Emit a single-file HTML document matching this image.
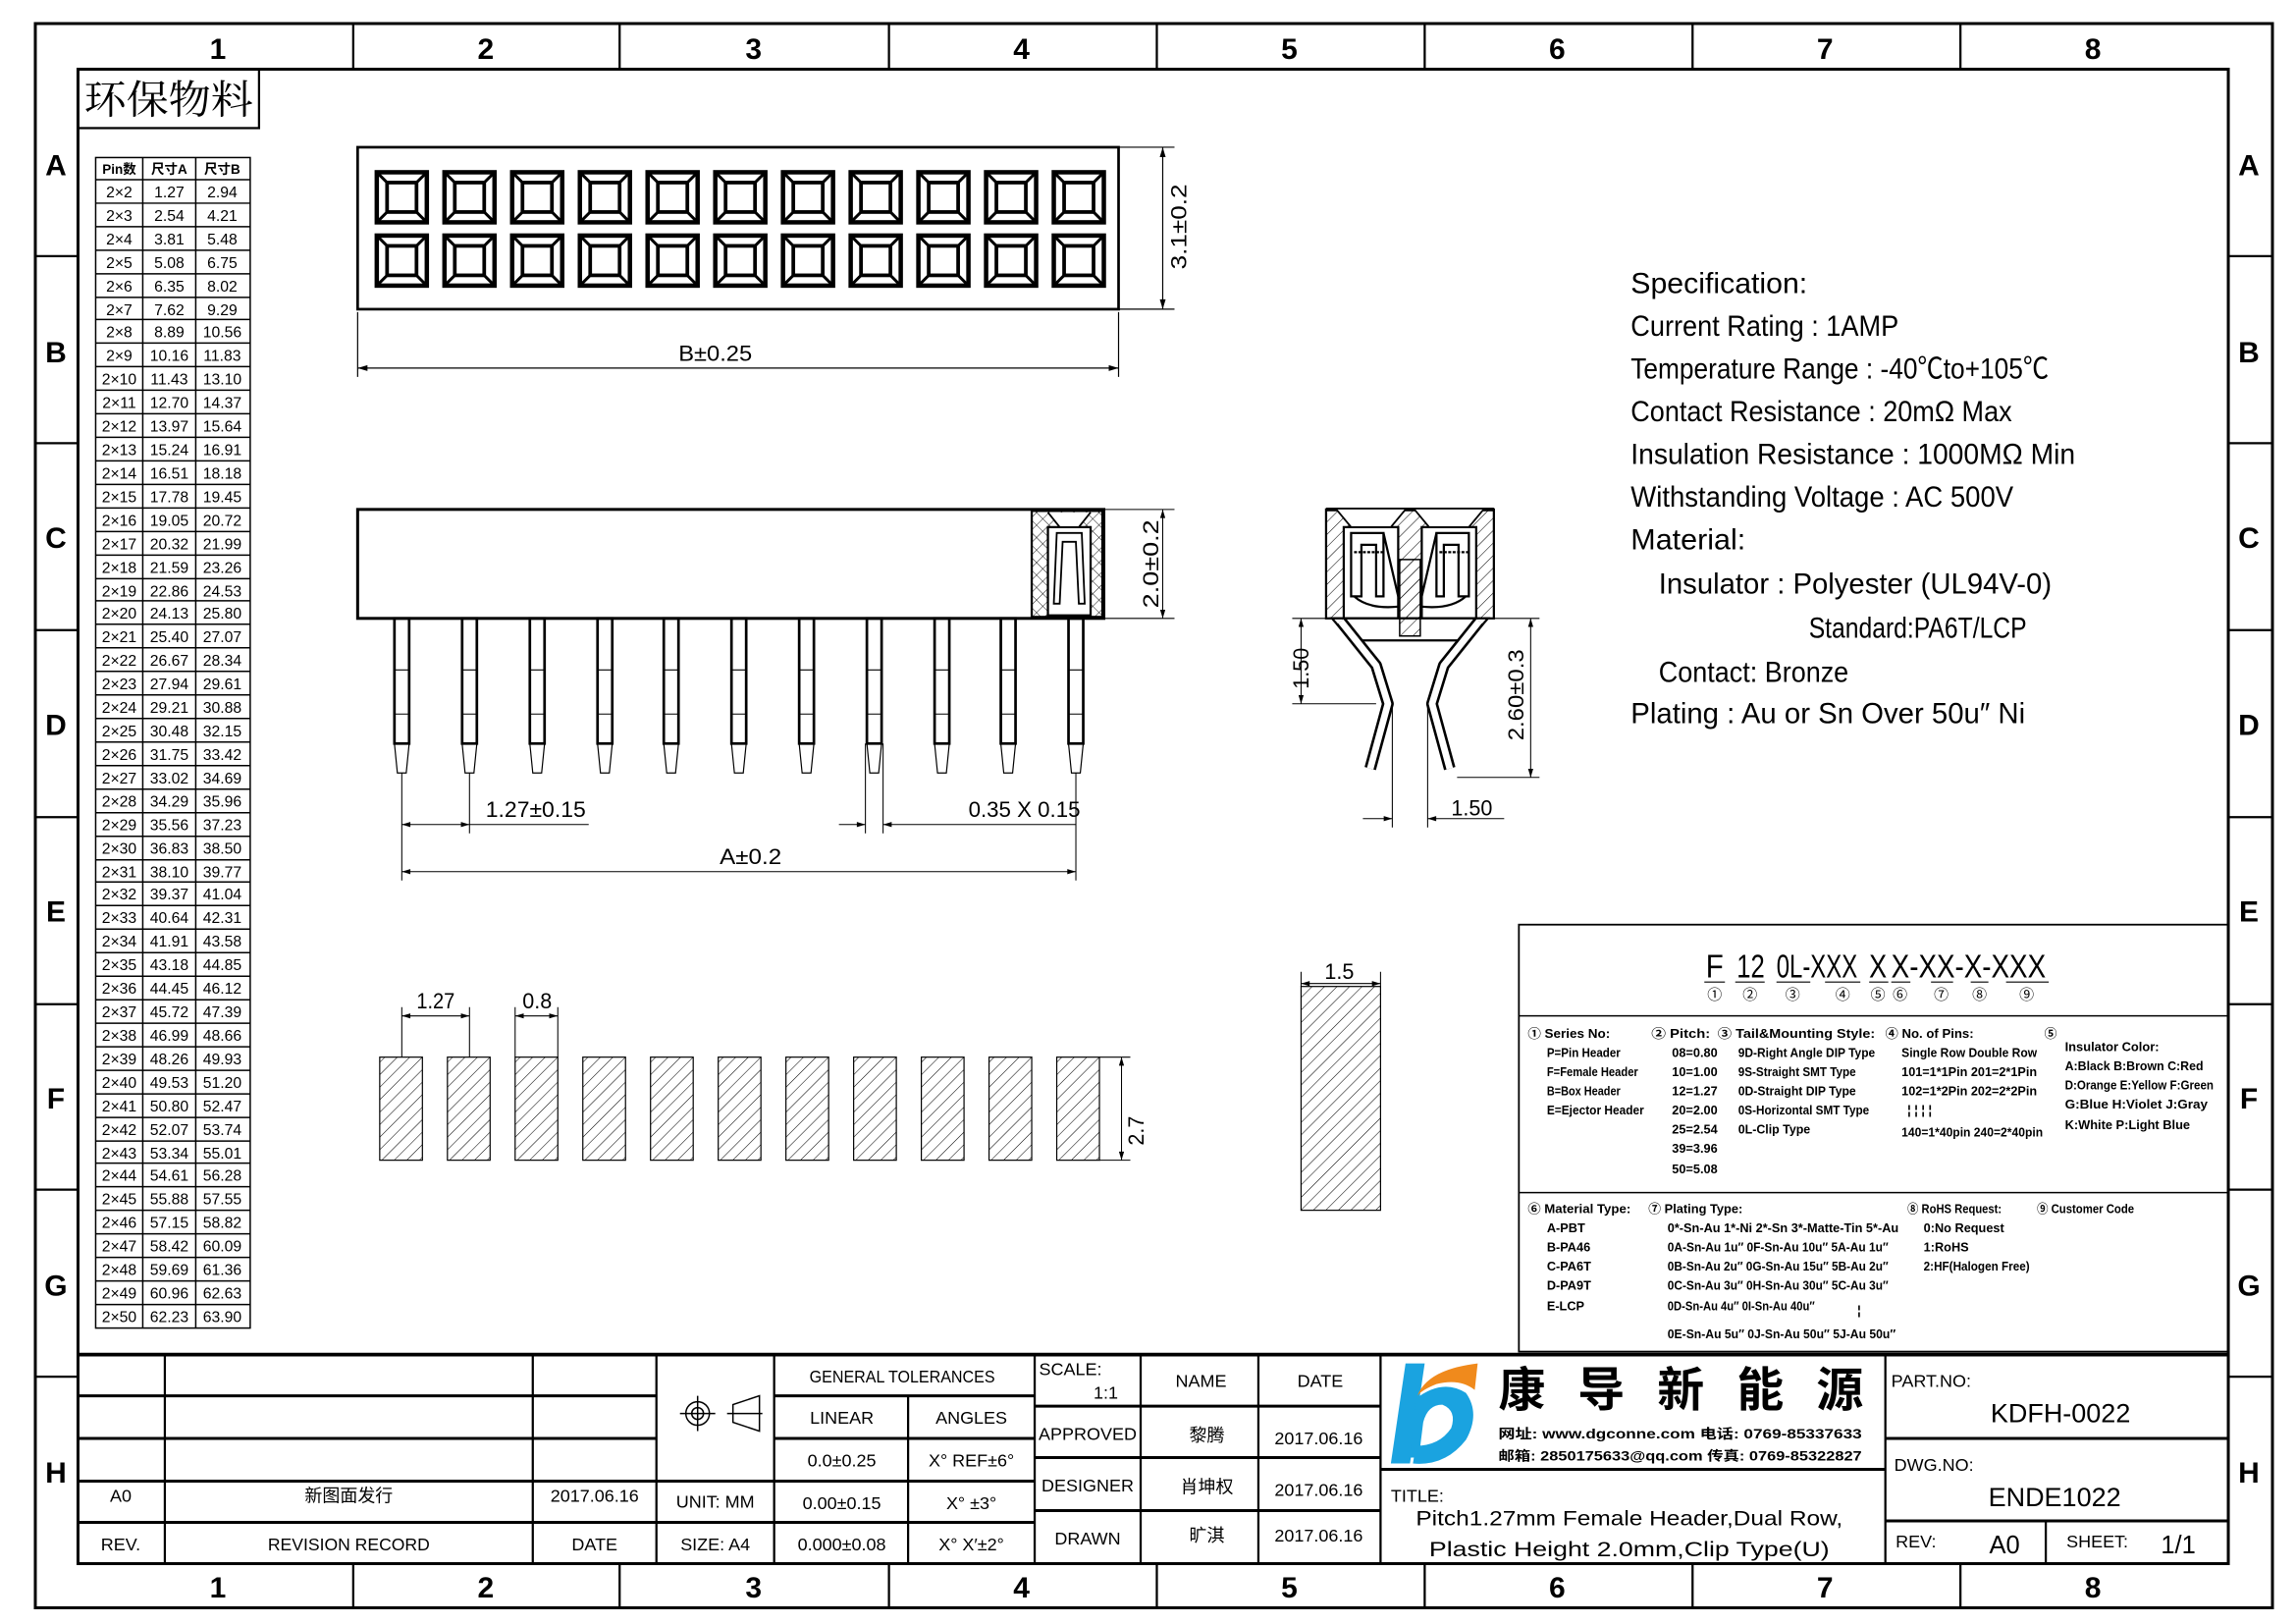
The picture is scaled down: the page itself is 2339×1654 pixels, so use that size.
<!DOCTYPE html>
<html><head><meta charset="utf-8"><style>
html,body{margin:0;padding:0;background:#fff;}
svg{display:block;}
text{font-family:"Liberation Sans","Noto Sans CJK SC",sans-serif;fill:#000;}
.sm{font-size:8.5px;font-weight:bold;}
.tb{font-size:12px;}
</style></head><body>
<svg width="2339" height="1654" viewBox="0 0 1560 1103" preserveAspectRatio="none" xmlns="http://www.w3.org/2000/svg">
<defs>
<pattern id="h" width="6" height="6" patternUnits="userSpaceOnUse" patternTransform="rotate(45)"><line x1="0" y1="0" x2="0" y2="6" stroke="#000" stroke-width="0.7"/></pattern>
<pattern id="x" width="6" height="6" patternUnits="userSpaceOnUse" patternTransform="rotate(45)"><line x1="0" y1="0" x2="0" y2="6" stroke="#000" stroke-width="0.6"/><line x1="0" y1="0" x2="6" y2="0" stroke="#000" stroke-width="0.6"/></pattern>
<g id="sq" fill="none" stroke="#000"><rect x="0" y="0" width="34" height="34" stroke-width="3"/><rect x="7" y="7" width="20" height="20" stroke-width="2.5"/><path d="M0 0L7 7M34 0L27 7M0 34L7 27M34 34L27 27" stroke-width="2"/></g>
<g id="pin" fill="none" stroke="#000"><rect x="-5" y="420" width="10" height="85" stroke-width="1.8"/><path d="M-5 455H5M-5 485H5" stroke-width="0.7"/><path d="M-5 505L-3 525H3L5 505" stroke-width="0.8"/></g>
<g id="fp"><rect x="0" y="718" width="29" height="70" fill="url(#h)" stroke="#000" stroke-width="0.8"/></g>
<marker id="a" viewBox="0 0 10 6" refX="10" refY="3" markerWidth="10" markerHeight="5" orient="auto-start-reverse"><path d="M0 0L10 3L0 6z" fill="#000"/></marker>
</defs>
<rect width="1560" height="1103" fill="#fff"/>
<!-- frames -->
<rect x="24" y="16" width="1520" height="1076" fill="none" stroke="#000" stroke-width="2"/>
<rect x="53" y="47" width="1461" height="1015" fill="none" stroke="#000" stroke-width="2"/>
<g stroke="#000" stroke-width="1.5">
<path d="M240 16V47M421 16V47M604 16V47M786 16V47M968 16V47M1150 16V47M1332 16V47"/>
<path d="M240 1062V1092M421 1062V1092M604 1062V1092M786 1062V1092M968 1062V1092M1150 1062V1092M1332 1062V1092"/>
<path d="M24 174H53M24 301H53M24 428H53M24 555H53M24 682H53M24 808H53M24 935H53"/>
<path d="M1514 174H1544M1514 301H1544M1514 428H1544M1514 555H1544M1514 682H1544M1514 808H1544M1514 935H1544"/>
</g>
<g font-size="20" font-weight="bold" text-anchor="middle">
<text x="148" y="40">1</text><text x="330" y="40">2</text><text x="512" y="40">3</text><text x="694" y="40">4</text><text x="876" y="40">5</text><text x="1058" y="40">6</text><text x="1240" y="40">7</text><text x="1422" y="40">8</text>
<text x="148" y="1085">1</text><text x="330" y="1085">2</text><text x="512" y="1085">3</text><text x="694" y="1085">4</text><text x="876" y="1085">5</text><text x="1058" y="1085">6</text><text x="1240" y="1085">7</text><text x="1422" y="1085">8</text>
<text x="38" y="119">A</text><text x="38" y="246">B</text><text x="38" y="372">C</text><text x="38" y="499">D</text><text x="38" y="626">E</text><text x="38" y="753">F</text><text x="38" y="880">G</text><text x="38" y="1007">H</text>
<text x="1528" y="119">A</text><text x="1528" y="246">B</text><text x="1528" y="372">C</text><text x="1528" y="499">D</text><text x="1528" y="626">E</text><text x="1528" y="753">F</text><text x="1528" y="880">G</text><text x="1528" y="1007">H</text>
</g>
<rect x="53" y="47" width="123" height="40" fill="none" stroke="#000" stroke-width="1.5"/>
<text x="57" y="77" font-size="27" textLength="115" lengthAdjust="spacingAndGlyphs" style="font-family:'Noto Serif CJK SC','Noto Sans CJK SC',serif">环保物料</text>

<!-- table -->
<g stroke="#000" stroke-width="1" fill="none">
<rect x="65" y="107" width="105" height="795"/>
<path d="M97 107V902M133 107V902M65 122H170"/>
<path d="M65 138H170M65 154H170M65 170H170M65 186H170M65 202H170M65 217H170M65 233H170M65 249H170M65 265H170M65 281H170M65 297H170M65 313H170M65 329H170M65 345H170M65 361H170M65 377H170M65 393H170M65 408H170M65 424H170M65 440H170M65 456H170M65 472H170M65 488H170M65 504H170M65 520H170M65 536H170M65 552H170M65 568H170M65 584H170M65 599H170M65 615H170M65 631H170M65 647H170M65 663H170M65 679H170M65 695H170M65 711H170M65 727H170M65 743H170M65 759H170M65 775H170M65 790H170M65 806H170M65 822H170M65 838H170M65 854H170M65 870H170M65 886H170"/>
</g>
<g font-size="10" font-weight="bold" text-anchor="middle">
<text x="81" y="118" font-size="9">Pin数</text><text x="115" y="118" font-size="9">尺寸A</text><text x="151" y="118" font-size="9">尺寸B</text>
</g>
<g font-size="10.5" text-anchor="middle" id="tbl">
<text y="134"><tspan x="81">2×2</tspan><tspan x="115">1.27</tspan><tspan x="151">2.94</tspan></text>
<text y="150"><tspan x="81">2×3</tspan><tspan x="115">2.54</tspan><tspan x="151">4.21</tspan></text>
<text y="166"><tspan x="81">2×4</tspan><tspan x="115">3.81</tspan><tspan x="151">5.48</tspan></text>
<text y="182"><tspan x="81">2×5</tspan><tspan x="115">5.08</tspan><tspan x="151">6.75</tspan></text>
<text y="198"><tspan x="81">2×6</tspan><tspan x="115">6.35</tspan><tspan x="151">8.02</tspan></text>
<text y="214"><tspan x="81">2×7</tspan><tspan x="115">7.62</tspan><tspan x="151">9.29</tspan></text>
<text y="229"><tspan x="81">2×8</tspan><tspan x="115">8.89</tspan><tspan x="151">10.56</tspan></text>
<text y="245"><tspan x="81">2×9</tspan><tspan x="115">10.16</tspan><tspan x="151">11.83</tspan></text>
<text y="261"><tspan x="81">2×10</tspan><tspan x="115">11.43</tspan><tspan x="151">13.10</tspan></text>
<text y="277"><tspan x="81">2×11</tspan><tspan x="115">12.70</tspan><tspan x="151">14.37</tspan></text>
<text y="293"><tspan x="81">2×12</tspan><tspan x="115">13.97</tspan><tspan x="151">15.64</tspan></text>
<text y="309"><tspan x="81">2×13</tspan><tspan x="115">15.24</tspan><tspan x="151">16.91</tspan></text>
<text y="325"><tspan x="81">2×14</tspan><tspan x="115">16.51</tspan><tspan x="151">18.18</tspan></text>
<text y="341"><tspan x="81">2×15</tspan><tspan x="115">17.78</tspan><tspan x="151">19.45</tspan></text>
<text y="357"><tspan x="81">2×16</tspan><tspan x="115">19.05</tspan><tspan x="151">20.72</tspan></text>
<text y="373"><tspan x="81">2×17</tspan><tspan x="115">20.32</tspan><tspan x="151">21.99</tspan></text>
<text y="389"><tspan x="81">2×18</tspan><tspan x="115">21.59</tspan><tspan x="151">23.26</tspan></text>
<text y="405"><tspan x="81">2×19</tspan><tspan x="115">22.86</tspan><tspan x="151">24.53</tspan></text>
<text y="420"><tspan x="81">2×20</tspan><tspan x="115">24.13</tspan><tspan x="151">25.80</tspan></text>
<text y="436"><tspan x="81">2×21</tspan><tspan x="115">25.40</tspan><tspan x="151">27.07</tspan></text>
<text y="452"><tspan x="81">2×22</tspan><tspan x="115">26.67</tspan><tspan x="151">28.34</tspan></text>
<text y="468"><tspan x="81">2×23</tspan><tspan x="115">27.94</tspan><tspan x="151">29.61</tspan></text>
<text y="484"><tspan x="81">2×24</tspan><tspan x="115">29.21</tspan><tspan x="151">30.88</tspan></text>
<text y="500"><tspan x="81">2×25</tspan><tspan x="115">30.48</tspan><tspan x="151">32.15</tspan></text>
<text y="516"><tspan x="81">2×26</tspan><tspan x="115">31.75</tspan><tspan x="151">33.42</tspan></text>
<text y="532"><tspan x="81">2×27</tspan><tspan x="115">33.02</tspan><tspan x="151">34.69</tspan></text>
<text y="548"><tspan x="81">2×28</tspan><tspan x="115">34.29</tspan><tspan x="151">35.96</tspan></text>
<text y="564"><tspan x="81">2×29</tspan><tspan x="115">35.56</tspan><tspan x="151">37.23</tspan></text>
<text y="580"><tspan x="81">2×30</tspan><tspan x="115">36.83</tspan><tspan x="151">38.50</tspan></text>
<text y="596"><tspan x="81">2×31</tspan><tspan x="115">38.10</tspan><tspan x="151">39.77</tspan></text>
<text y="611"><tspan x="81">2×32</tspan><tspan x="115">39.37</tspan><tspan x="151">41.04</tspan></text>
<text y="627"><tspan x="81">2×33</tspan><tspan x="115">40.64</tspan><tspan x="151">42.31</tspan></text>
<text y="643"><tspan x="81">2×34</tspan><tspan x="115">41.91</tspan><tspan x="151">43.58</tspan></text>
<text y="659"><tspan x="81">2×35</tspan><tspan x="115">43.18</tspan><tspan x="151">44.85</tspan></text>
<text y="675"><tspan x="81">2×36</tspan><tspan x="115">44.45</tspan><tspan x="151">46.12</tspan></text>
<text y="691"><tspan x="81">2×37</tspan><tspan x="115">45.72</tspan><tspan x="151">47.39</tspan></text>
<text y="707"><tspan x="81">2×38</tspan><tspan x="115">46.99</tspan><tspan x="151">48.66</tspan></text>
<text y="723"><tspan x="81">2×39</tspan><tspan x="115">48.26</tspan><tspan x="151">49.93</tspan></text>
<text y="739"><tspan x="81">2×40</tspan><tspan x="115">49.53</tspan><tspan x="151">51.20</tspan></text>
<text y="755"><tspan x="81">2×41</tspan><tspan x="115">50.80</tspan><tspan x="151">52.47</tspan></text>
<text y="771"><tspan x="81">2×42</tspan><tspan x="115">52.07</tspan><tspan x="151">53.74</tspan></text>
<text y="787"><tspan x="81">2×43</tspan><tspan x="115">53.34</tspan><tspan x="151">55.01</tspan></text>
<text y="802"><tspan x="81">2×44</tspan><tspan x="115">54.61</tspan><tspan x="151">56.28</tspan></text>
<text y="818"><tspan x="81">2×45</tspan><tspan x="115">55.88</tspan><tspan x="151">57.55</tspan></text>
<text y="834"><tspan x="81">2×46</tspan><tspan x="115">57.15</tspan><tspan x="151">58.82</tspan></text>
<text y="850"><tspan x="81">2×47</tspan><tspan x="115">58.42</tspan><tspan x="151">60.09</tspan></text>
<text y="866"><tspan x="81">2×48</tspan><tspan x="115">59.69</tspan><tspan x="151">61.36</tspan></text>
<text y="882"><tspan x="81">2×49</tspan><tspan x="115">60.96</tspan><tspan x="151">62.63</tspan></text>
<text y="898"><tspan x="81">2×50</tspan><tspan x="115">62.23</tspan><tspan x="151">63.90</tspan></text>
</g>

<!-- top view -->
<rect x="243" y="100" width="517" height="110" fill="none" stroke="#000" stroke-width="1.8"/>
<g>
<use href="#sq" x="256" y="117"/><use href="#sq" x="302" y="117"/><use href="#sq" x="348" y="117"/><use href="#sq" x="394" y="117"/><use href="#sq" x="440" y="117"/><use href="#sq" x="486" y="117"/><use href="#sq" x="532" y="117"/><use href="#sq" x="578" y="117"/><use href="#sq" x="624" y="117"/><use href="#sq" x="670" y="117"/><use href="#sq" x="716" y="117"/>
<use href="#sq" x="256" y="160"/><use href="#sq" x="302" y="160"/><use href="#sq" x="348" y="160"/><use href="#sq" x="394" y="160"/><use href="#sq" x="440" y="160"/><use href="#sq" x="486" y="160"/><use href="#sq" x="532" y="160"/><use href="#sq" x="578" y="160"/><use href="#sq" x="624" y="160"/><use href="#sq" x="670" y="160"/><use href="#sq" x="716" y="160"/>
</g>
<g stroke="#000" stroke-width="0.8" fill="none">
<path d="M760 100H798M760 210H798M243 212V256M760 212V256"/>
<line x1="790" y1="100" x2="790" y2="210" marker-start="url(#a)" marker-end="url(#a)"/>
<line x1="243" y1="250" x2="760" y2="250" marker-start="url(#a)" marker-end="url(#a)"/>
</g>
<text x="0" y="0" font-size="15" transform="translate(806,183) rotate(-90)" textLength="58" lengthAdjust="spacingAndGlyphs">3.1±0.2</text>
<text x="461" y="245" font-size="15" textLength="50" lengthAdjust="spacingAndGlyphs">B±0.25</text>

<!-- side view -->
<rect x="243" y="346" width="507" height="74" fill="none" stroke="#000" stroke-width="2"/>
<rect x="701" y="347" width="48" height="72" fill="url(#x)" stroke="#000" stroke-width="1.5"/>
<path d="M712 358H741V418H712Z" fill="#fff" stroke="#000" stroke-width="1.5"/>
<path d="M712 348L720 358H733L741 348" fill="#fff" stroke="#000" stroke-width="1.2"/>
<path d="M718 362H735L737 410H733L731 368H722L720 410H716Z" fill="none" stroke="#000" stroke-width="1.2"/>
<g>
<use href="#pin" x="273"/><use href="#pin" x="319"/><use href="#pin" x="365"/><use href="#pin" x="411"/><use href="#pin" x="456"/><use href="#pin" x="502"/><use href="#pin" x="548"/><use href="#pin" x="594"/><use href="#pin" x="640"/><use href="#pin" x="685"/><use href="#pin" x="731"/>
</g>
<g stroke="#000" stroke-width="0.7" fill="none">
<path d="M273 525V598M319 525V566M588 505V566M600 505V566M731 525V598"/>
<line x1="273" y1="560" x2="319" y2="560" marker-start="url(#a)" marker-end="url(#a)"/>
<path d="M319 560H400"/>
<line x1="570" y1="560" x2="588" y2="560" marker-end="url(#a)"/>
<line x1="731" y1="560" x2="600" y2="560" marker-end="url(#a)"/>
<line x1="273" y1="592" x2="731" y2="592" marker-start="url(#a)" marker-end="url(#a)"/>
<path d="M750 346H798M750 420H798"/>
<line x1="790" y1="346" x2="790" y2="420" marker-start="url(#a)" marker-end="url(#a)"/>
</g>
<text x="330" y="555" font-size="15" textLength="68" lengthAdjust="spacingAndGlyphs">1.27±0.15</text>
<text x="658" y="555" font-size="15" textLength="76" lengthAdjust="spacingAndGlyphs">0.35 X 0.15</text>
<text x="489" y="587" font-size="15" textLength="42" lengthAdjust="spacingAndGlyphs">A±0.2</text>
<text font-size="15" transform="translate(787,413) rotate(-90)" textLength="60" lengthAdjust="spacingAndGlyphs">2.0±0.2</text>

<!-- cross-section -->
<rect x="901" y="346" width="114" height="74" fill="url(#h)" stroke="#000" stroke-width="1.5"/>
<path d="M901 346H1015" stroke="#000" stroke-width="2.5"/>
<path d="M913 358H950V420H913Z M966 358H1003V420H966Z" fill="#fff" stroke="#000" stroke-width="1.5"/>
<path d="M908 346L918 358H945L955 346M961 346L971 358H998L1008 346" fill="#fff" stroke="#000" stroke-width="1.2"/>
<g fill="none" stroke="#000" stroke-width="1.5">
<path d="M918 362H940V405H935V370H925V405H918Z"/>
<path d="M976 362H998V405H991V370H981V405H976Z"/>
<path d="M920 375H940M978 375H998" stroke-dasharray="2 1"/>
<path d="M940 362L950 405M976 362L966 405"/>
</g>
<path d="M905 420L918 435H998L1011 420Z" fill="#fff" stroke="#000" stroke-width="1.5"/>
<path d="M951 380H965V432H951Z" fill="url(#h)" stroke="#000" stroke-width="1"/>
<g fill="none" stroke-linejoin="round">
<polyline points="911,422 935,452 943,478 931,522" stroke="#000" stroke-width="8"/>
<polyline points="911,422 935,452 943,478 931,522" stroke="#fff" stroke-width="4.5"/>
<polyline points="1005,422 981,452 973,478 985,522" stroke="#000" stroke-width="8"/>
<polyline points="1005,422 981,452 973,478 985,522" stroke="#fff" stroke-width="4.5"/>
<path d="M920 405Q930 414 950 412M996 405Q986 414 966 412" stroke="#000" stroke-width="1.5"/>
</g>
<g stroke="#000" stroke-width="0.7" fill="none">
<path d="M878 420H905M878 478H935M1015 420H1046M990 528H1046M946 478V562M970 478V562"/>
<line x1="884" y1="420" x2="884" y2="478" marker-start="url(#a)" marker-end="url(#a)"/>
<line x1="1040" y1="420" x2="1040" y2="528" marker-start="url(#a)" marker-end="url(#a)"/>
<line x1="926" y1="556" x2="946" y2="556" marker-end="url(#a)"/>
<line x1="1022" y1="556" x2="970" y2="556" marker-end="url(#a)"/>
</g>
<text font-size="15" transform="translate(889,468) rotate(-90)" textLength="28" lengthAdjust="spacingAndGlyphs">1.50</text>
<text font-size="15" transform="translate(1035,503) rotate(-90)" textLength="62" lengthAdjust="spacingAndGlyphs">2.60±0.3</text>
<text x="986" y="554" font-size="15" textLength="28" lengthAdjust="spacingAndGlyphs">1.50</text>

<!-- spec -->
<g font-size="20" lengthAdjust="spacingAndGlyphs">
<text x="1108" y="199" textLength="120" lengthAdjust="spacingAndGlyphs">Specification:</text>
<text x="1108" y="228" textLength="182" lengthAdjust="spacingAndGlyphs">Current Rating : 1AMP</text>
<text x="1108" y="257" textLength="284" lengthAdjust="spacingAndGlyphs">Temperature Range : -40℃to+105℃</text>
<text x="1108" y="286" textLength="259" lengthAdjust="spacingAndGlyphs">Contact Resistance : 20mΩ Max</text>
<text x="1108" y="315" textLength="302" lengthAdjust="spacingAndGlyphs">Insulation Resistance : 1000MΩ Min</text>
<text x="1108" y="344" textLength="260" lengthAdjust="spacingAndGlyphs">Withstanding Voltage : AC 500V</text>
<text x="1108" y="373" textLength="78" lengthAdjust="spacingAndGlyphs">Material:</text>
<text x="1127" y="403" textLength="267" lengthAdjust="spacingAndGlyphs">Insulator : Polyester (UL94V-0)</text>
<text x="1229" y="433" textLength="148" lengthAdjust="spacingAndGlyphs">Standard:PA6T/LCP</text>
<text x="1127" y="463" textLength="129" lengthAdjust="spacingAndGlyphs">Contact: Bronze</text>
<text x="1108" y="491" textLength="268" lengthAdjust="spacingAndGlyphs">Plating : Au or Sn Over 50u″ Ni</text>
</g>

<!-- part number box -->
<rect x="1032" y="628" width="482" height="290" fill="none" stroke="#000" stroke-width="1.2"/>
<path d="M1032 690H1514M1032 810H1514" stroke="#000" stroke-width="1"/>
<g font-size="22">
<text x="1159" y="664" textLength="12" lengthAdjust="spacingAndGlyphs">F</text>
<text x="1180" y="664" textLength="19" lengthAdjust="spacingAndGlyphs">12</text>
<text x="1207" y="664" textLength="55" lengthAdjust="spacingAndGlyphs">0L-XXX</text>
<text x="1270" y="664" textLength="12" lengthAdjust="spacingAndGlyphs">X</text>
<text x="1285" y="664" textLength="105" lengthAdjust="spacingAndGlyphs">X-XX-X-XXX</text>
</g>
<path d="M1158 667H1172M1179 667H1199M1207 667H1230M1240 667H1264M1270 667H1283M1285 667H1298M1312 667H1327M1339 667H1351M1363 667H1392" stroke="#000" stroke-width="0.7"/>
<g font-size="10" text-anchor="middle">
<text x="1165" y="679">①</text><text x="1189" y="679">②</text><text x="1218" y="679">③</text><text x="1252" y="679">④</text><text x="1276" y="679">⑤</text><text x="1291" y="679">⑥</text><text x="1319" y="679">⑦</text><text x="1345" y="679">⑧</text><text x="1377" y="679">⑨</text>
</g>
<g class="sm">
<text x="1038" y="705" textLength="56" lengthAdjust="spacingAndGlyphs">① Series No:</text>
<text x="1051" y="718" textLength="50" lengthAdjust="spacingAndGlyphs">P=Pin Header</text>
<text x="1051" y="731" textLength="62" lengthAdjust="spacingAndGlyphs">F=Female Header</text>
<text x="1051" y="744" textLength="50" lengthAdjust="spacingAndGlyphs">B=Box Header</text>
<text x="1051" y="757" textLength="66" lengthAdjust="spacingAndGlyphs">E=Ejector Header</text>
<text x="1122" y="705" textLength="40" lengthAdjust="spacingAndGlyphs">② Pitch:</text>
<text x="1136" y="718">08=0.80</text><text x="1136" y="731">10=1.00</text><text x="1136" y="744">12=1.27</text><text x="1136" y="757">20=2.00</text><text x="1136" y="770">25=2.54</text><text x="1136" y="783">39=3.96</text><text x="1136" y="797">50=5.08</text>
<text x="1167" y="705" textLength="107" lengthAdjust="spacingAndGlyphs">③ Tail&amp;Mounting Style:</text>
<text x="1181" y="718" textLength="93" lengthAdjust="spacingAndGlyphs">9D-Right Angle DIP Type</text>
<text x="1181" y="731" textLength="80" lengthAdjust="spacingAndGlyphs">9S-Straight SMT Type</text>
<text x="1181" y="744" textLength="80" lengthAdjust="spacingAndGlyphs">0D-Straight DIP Type</text>
<text x="1181" y="757" textLength="89" lengthAdjust="spacingAndGlyphs">0S-Horizontal SMT Type</text>
<text x="1181" y="770" textLength="49" lengthAdjust="spacingAndGlyphs">0L-Clip Type</text>
<text x="1281" y="705" textLength="60" lengthAdjust="spacingAndGlyphs">④ No. of Pins:</text>
<text x="1292" y="718" textLength="92" lengthAdjust="spacingAndGlyphs">Single Row   Double Row</text>
<text x="1292" y="731" textLength="92" lengthAdjust="spacingAndGlyphs">101=1*1Pin  201=2*1Pin</text>
<text x="1292" y="744" textLength="92" lengthAdjust="spacingAndGlyphs">102=1*2Pin  202=2*2Pin</text>
<text x="1296" y="757">¦  ¦       ¦  ¦</text>
<text x="1292" y="772" textLength="96" lengthAdjust="spacingAndGlyphs">140=1*40pin 240=2*40pin</text>
<text x="1389" y="705">⑤</text>
<text x="1403" y="714" textLength="64" lengthAdjust="spacingAndGlyphs">Insulator Color:</text>
<text x="1403" y="727" textLength="94" lengthAdjust="spacingAndGlyphs">A:Black  B:Brown  C:Red</text>
<text x="1403" y="740" textLength="101" lengthAdjust="spacingAndGlyphs">D:Orange E:Yellow F:Green</text>
<text x="1403" y="753" textLength="97" lengthAdjust="spacingAndGlyphs">G:Blue   H:Violet J:Gray</text>
<text x="1403" y="767" textLength="85" lengthAdjust="spacingAndGlyphs">K:White  P:Light Blue</text>
<text x="1038" y="824" textLength="70" lengthAdjust="spacingAndGlyphs">⑥ Material Type:</text>
<text x="1051" y="837">A-PBT</text><text x="1051" y="850">B-PA46</text><text x="1051" y="863">C-PA6T</text><text x="1051" y="876">D-PA9T</text><text x="1051" y="890">E-LCP</text>
<text x="1120" y="824" textLength="64" lengthAdjust="spacingAndGlyphs">⑦ Plating Type:</text>
<text x="1133" y="837" textLength="157" lengthAdjust="spacingAndGlyphs">0*-Sn-Au 1*-Ni 2*-Sn 3*-Matte-Tin 5*-Au</text>
<text x="1133" y="850" textLength="150" lengthAdjust="spacingAndGlyphs">0A-Sn-Au 1u″ 0F-Sn-Au 10u″  5A-Au 1u″</text>
<text x="1133" y="863" textLength="150" lengthAdjust="spacingAndGlyphs">0B-Sn-Au 2u″ 0G-Sn-Au 15u″  5B-Au 2u″</text>
<text x="1133" y="876" textLength="150" lengthAdjust="spacingAndGlyphs">0C-Sn-Au 3u″ 0H-Sn-Au 30u″  5C-Au 3u″</text>
<text x="1133" y="890" textLength="100" lengthAdjust="spacingAndGlyphs">0D-Sn-Au 4u″ 0I-Sn-Au 40u″</text>
<text x="1262" y="893">¦</text>
<text x="1133" y="909" textLength="155" lengthAdjust="spacingAndGlyphs">0E-Sn-Au 5u″ 0J-Sn-Au 50u″  5J-Au 50u″</text>
<text x="1296" y="824" textLength="64" lengthAdjust="spacingAndGlyphs">⑧ RoHS Request:</text>
<text x="1307" y="837">0:No Request</text><text x="1307" y="850">1:RoHS</text>
<text x="1307" y="863" textLength="72" lengthAdjust="spacingAndGlyphs">2:HF(Halogen Free)</text>
<text x="1384" y="824" textLength="66" lengthAdjust="spacingAndGlyphs">⑨ Customer Code</text>
</g>

<!-- footprint -->
<g>
<use href="#fp" x="258"/><use href="#fp" x="304"/><use href="#fp" x="350"/><use href="#fp" x="396"/><use href="#fp" x="442"/><use href="#fp" x="488"/><use href="#fp" x="534"/><use href="#fp" x="580"/><use href="#fp" x="626"/><use href="#fp" x="672"/><use href="#fp" x="718"/>
</g>
<rect x="884" y="670" width="54" height="152" fill="url(#h)" stroke="#000" stroke-width="0.8"/>
<g stroke="#000" stroke-width="0.7" fill="none">
<path d="M273 684V718M319 684V718M350 684V718M379 684V718M884 660V670M938 660V670M747 718H768M747 788H768"/>
<line x1="273" y1="690" x2="319" y2="690" marker-start="url(#a)" marker-end="url(#a)"/>
<line x1="350" y1="690" x2="379" y2="690" marker-start="url(#a)" marker-end="url(#a)"/>
<line x1="884" y1="668" x2="938" y2="668" marker-start="url(#a)" marker-end="url(#a)"/>
<line x1="762" y1="718" x2="762" y2="788" marker-start="url(#a)" marker-end="url(#a)"/>
</g>
<text x="283" y="685" font-size="15" textLength="26" lengthAdjust="spacingAndGlyphs">1.27</text>
<text x="355" y="685" font-size="15" textLength="20" lengthAdjust="spacingAndGlyphs">0.8</text>
<text x="900" y="665" font-size="15" textLength="20" lengthAdjust="spacingAndGlyphs">1.5</text>
<text font-size="15" transform="translate(777,778) rotate(-90)" textLength="20" lengthAdjust="spacingAndGlyphs">2.7</text>

<!-- title block -->
<g stroke="#000" fill="none">
<path d="M53 920H1514" stroke-width="2.5"/>
<path d="M53 948H446M53 977H446M53 1006H446M53 1034H446" stroke-width="2"/>
<path d="M526 948H703M526 977H703M526 1006H703M446 1006H526M446 1034H703" stroke-width="2"/>
<path d="M703 955H938M703 990H938M703 1026H938" stroke-width="2"/>
<path d="M938 998H1281M1281 977H1514M1281 1033H1514" stroke-width="2"/>
<path d="M112 920V1062M362 920V1062M446 920V1062M526 920V1062M617 948V1062M703 920V1062M775 920V1062M855 920V1062M938 920V1062M1281 920V1062M1390 1033V1062" stroke-width="1.5"/>
</g>
<g font-size="12" text-anchor="middle">
<text x="613" y="939" textLength="126" lengthAdjust="spacingAndGlyphs">GENERAL TOLERANCES</text>
<text x="572" y="967">LINEAR</text><text x="660" y="967">ANGLES</text>
<text x="572" y="996">0.0±0.25</text><text x="660" y="996">X° REF±6°</text>
<text x="572" y="1025">0.00±0.15</text><text x="660" y="1025">X°  ±3°</text>
<text x="572" y="1053">0.000±0.08</text><text x="660" y="1053">X° X′±2°</text>
<text x="486" y="1024">UNIT: MM</text><text x="486" y="1053">SIZE: A4</text>
<text x="82" y="1020">A0</text><text x="237" y="1020">新图面发行</text><text x="404" y="1020">2017.06.16</text>
<text x="82" y="1053">REV.</text><text x="237" y="1053" textLength="110" lengthAdjust="spacingAndGlyphs">REVISION RECORD</text><text x="404" y="1053">DATE</text>
<text x="739" y="978">APPROVED</text><text x="739" y="1013">DESIGNER</text><text x="739" y="1049">DRAWN</text>
<text x="816" y="942">NAME</text><text x="897" y="942">DATE</text>
<text x="820" y="979">黎腾</text><text x="820" y="1014">肖坤权</text><text x="820" y="1047">旷淇</text>
<text x="896" y="981">2017.06.16</text><text x="896" y="1016">2017.06.16</text><text x="896" y="1047">2017.06.16</text>
</g>
<text x="706" y="934" font-size="12">SCALE:</text>
<text x="743" y="950" font-size="12">1:1</text>
<g fill="none" stroke="#000" stroke-width="1">
<circle cx="474" cy="960" r="8"/><circle cx="474" cy="960" r="4"/><path d="M462 960H486M474 948V972"/>
<path d="M494 960H518M498 954V966L516 972V948Z"/>
</g>
<!-- logo -->
<path d="M955 926L968 926L958 994L945 994Z" fill="#1aa3e0"/>
<path d="M962 950Q980 936 996 946Q1006 960 996 978Q982 996 960 994L962 982Q978 982 986 970Q990 958 980 954Q970 954 967 966L964 990L958 990L962 950Z" fill="#1aa3e0"/>
<path d="M963 948Q970 930 1004 926L1002 944Q992 936 976 940Q966 944 963 948Z" fill="#f08a1c"/>
<g font-size="32" font-weight="bold" style="font-family:'Noto Sans CJK SC','WenQuanYi Zen Hei',sans-serif">
<text x="1018" y="955" textLength="248" lengthAdjust="spacing">康导新能源</text>
</g>
<g font-size="9" font-weight="bold">
<text x="1018" y="977" textLength="247" lengthAdjust="spacingAndGlyphs">网址: www.dgconne.com   电话: 0769-85337633</text>
<text x="1018" y="992" textLength="247" lengthAdjust="spacingAndGlyphs">邮箱: 2850175633@qq.com 传真: 0769-85322827</text>
</g>
<text x="945" y="1020" font-size="12">TITLE:</text>
<text x="1107" y="1036" font-size="14" text-anchor="middle" textLength="290" lengthAdjust="spacingAndGlyphs">Pitch1.27mm Female Header,Dual Row,</text>
<text x="1107" y="1057" font-size="14" text-anchor="middle" textLength="272" lengthAdjust="spacingAndGlyphs">Plastic Height 2.0mm,Clip Type(U)</text>
<text x="1285" y="942" font-size="12">PART.NO:</text>
<text x="1400" y="966" font-size="18" text-anchor="middle">KDFH-0022</text>
<text x="1287" y="999" font-size="12">DWG.NO:</text>
<text x="1396" y="1023" font-size="18" text-anchor="middle">ENDE1022</text>
<text x="1288" y="1051" font-size="12">REV:</text>
<text x="1362" y="1055" font-size="17" text-anchor="middle">A0</text>
<text x="1404" y="1051" font-size="12">SHEET:</text>
<text x="1480" y="1055" font-size="17" text-anchor="middle">1/1</text>
</svg>
</body></html>
